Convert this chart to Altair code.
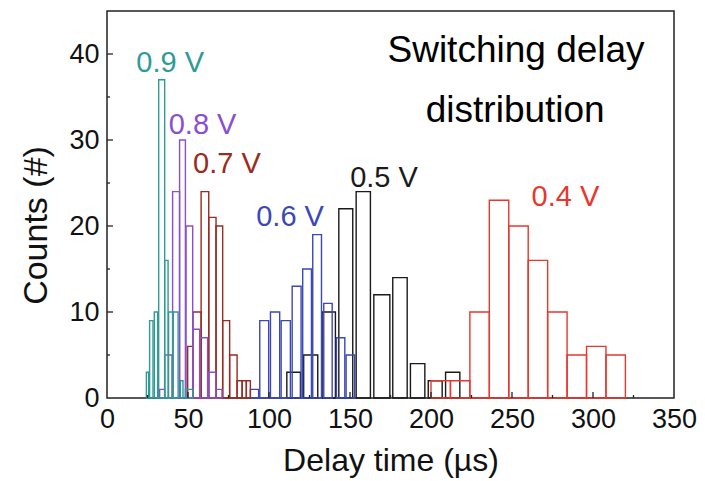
import altair as alt
import pandas as pd

# ---- data ----
series_names = ["0.9 V", "0.8 V", "0.7 V", "0.6 V", "0.5 V", "0.4 V"]
series_colors = ["#2f9b96", "#8a4fd0", "#9a2b22", "#3b48b6", "#1a1a1a", "#e8372c"]

v09_left = [24.3, 26.3, 29.2, 31.9, 35.6, 38.0, 40.8, 45.3, 48.4]
v09_right = [25.7, 28.4, 31.3, 35.6, 37.7, 40.8, 43.9, 46.9, 52.9]
v09_count = [3, 9, 10, 37, 16, 10, 10, 2, 1]

v08_left = [32.5, 35.6, 40.5, 44.8, 48.8, 52.9, 57.2, 62.8, 67.1]
v08_right = [35.6, 40.1, 44.8, 48.4, 52.9, 57.2, 62.1, 67.1, 71.0]
v08_count = [1, 5, 24, 30, 20, 8, 7, 3, 1]

v07_left = [49.8, 53.1, 58.1, 62.8, 67.3, 71.4, 75.7, 80.3, 83.4, 86.0]
v07_right = [52.9, 58.1, 62.8, 67.3, 71.4, 75.7, 80.3, 83.4, 86.0, 88.5]
v07_count = [6, 10, 24, 21, 20, 9, 5, 2, 2, 2]

v06_left = [88.5, 94.3, 100.9, 107.5, 114.3, 120.8, 127.0, 133.8, 141.6, 147.6]
v06_right = [93.6, 99.8, 106.6, 113.2, 119.8, 126.2, 132.4, 139.0, 146.8, 152.9]
v06_count = [1, 9, 10, 9, 13, 15, 19, 11, 7, 5]

v05_left = [111.0, 121.4, 132.8, 143.1, 153.8, 164.7, 176.4, 187.3, 198.3, 209.0]
v05_right = [119.4, 130.1, 141.0, 151.7, 162.6, 174.6, 185.3, 196.2, 206.9, 217.8]
v05_count = [3, 5, 10, 22, 24, 12, 14, 4, 2, 3]

v04_left = [200, 212, 224, 236, 248, 260, 272, 284, 296, 308]
v04_right = [212, 224, 236, 248, 260, 272, 284, 296, 308, 320]
v04_count = [2, 2, 10, 23, 20, 16, 10, 5, 6, 5]

# series labels (data coordinates)
label_x = [39.0, 59.0, 74.0, 113.0, 171.0, 283.0]
label_y = [39.0, 31.8, 27.2, 21.1, 25.6, 23.4]

note_lines = ["Switching delay", "distribution"]
note_x = [252.5, 252.0]
note_y = [40.3, 33.4]

x_tick_labels = [0, 50, 100, 150, 200, 250, 300, 350]
y_tick_labels = [0, 10, 20, 30, 40]
x_major_ticks = [50, 100, 150, 200, 250, 300]
x_minor_ticks = [25, 75, 125, 175, 225, 275, 325]
y_major_ticks = [10, 20, 30, 40]
y_minor_ticks = [5, 15, 25, 35]

# ---- tables ----
groups = [
    ("0.5 V", v05_left, v05_right, v05_count),
    ("0.6 V", v06_left, v06_right, v06_count),
    ("0.4 V", v04_left, v04_right, v04_count),
    ("0.7 V", v07_left, v07_right, v07_count),
    ("0.8 V", v08_left, v08_right, v08_count),
    ("0.9 V", v09_left, v09_right, v09_count),
]
rows = []
for name, l, r, c in groups:
    for a, b, n in zip(l, r, c):
        rows.append({"series": name, "left": a, "right": b, "count": n})
bars_df = pd.DataFrame(rows)

labels_df = pd.DataFrame({"series": series_names, "tx": label_x, "ty": label_y})
notes_df = pd.DataFrame({"t": note_lines, "tx": note_x, "ty": note_y})

W, H = 567, 387
FONT = "Liberation Sans"

xscale = alt.Scale(domain=[0, 350], nice=False, zero=False)
yscale = alt.Scale(domain=[0, 45], nice=False)
cscale = alt.Scale(domain=series_names, range=series_colors)

xaxis = alt.Axis(values=x_tick_labels, title="Delay time (µs)", ticks=False,
                 domain=False, grid=False, labelPadding=8, titlePadding=13,
                 titleFontSize=32,
                 labelFlush=False, labelOverlap=False)
yaxis = alt.Axis(values=y_tick_labels, title="Counts (#)", ticks=False,
                 domain=False, grid=False, labelPadding=8, titlePadding=15,
                 titleFontSize=34, titleY=214,
                 labelFlush=False, labelOverlap=False)

bars = alt.Chart(bars_df).mark_rect(filled=False, strokeWidth=1.4).encode(
    x=alt.X("left:Q", scale=xscale, axis=xaxis),
    x2="right:Q",
    y=alt.Y("count:Q", scale=yscale, axis=yaxis),
    y2=alt.datum(0),
    color=alt.Color("series:N", scale=cscale, legend=None),
)

def xticks(vals, length):
    return alt.Chart(pd.DataFrame({"v": vals})).mark_rule(color="#222", strokeWidth=1.3).encode(
        x=alt.X("v:Q", scale=xscale, axis=xaxis),
        y=alt.value(H), y2=alt.value(H - length))

def yticks(vals, length):
    return alt.Chart(pd.DataFrame({"v": vals})).mark_rule(color="#222", strokeWidth=1.3).encode(
        y=alt.Y("v:Q", scale=yscale, axis=yaxis),
        x=alt.value(0), x2=alt.value(length))

labels = alt.Chart(labels_df).mark_text(font=FONT, fontSize=29, align="center", baseline="middle").encode(
    x=alt.X("tx:Q", scale=xscale, axis=xaxis),
    y=alt.Y("ty:Q", scale=yscale, axis=yaxis),
    text="series:N",
    color=alt.Color("series:N", scale=cscale, legend=None),
)

notes = alt.Chart(notes_df).mark_text(font=FONT, fontSize=37, align="center", baseline="middle", color="#000").encode(
    x=alt.X("tx:Q", scale=xscale, axis=xaxis),
    y=alt.Y("ty:Q", scale=yscale, axis=yaxis),
    text="t:N",
)

chart = alt.layer(
    bars,
    xticks(x_major_ticks, 6), xticks(x_minor_ticks, 3),
    yticks(y_major_ticks, 6), yticks(y_minor_ticks, 3),
    labels, notes,
).properties(
    width=W, height=H,
    background="white",
    autosize=alt.AutoSizeParams(type="none"),
    padding={"left": 107, "top": 11, "right": 31, "bottom": 83},
).configure_view(
    stroke="#222", strokeWidth=1.5
).configure_axis(
    labelFont=FONT, labelFontSize=27, labelColor="#111",
    titleFont=FONT, titleFontWeight="normal", titleColor="#111",
)

chart.save("out.html", embed_options={"renderer": "svg", "actions": False})
